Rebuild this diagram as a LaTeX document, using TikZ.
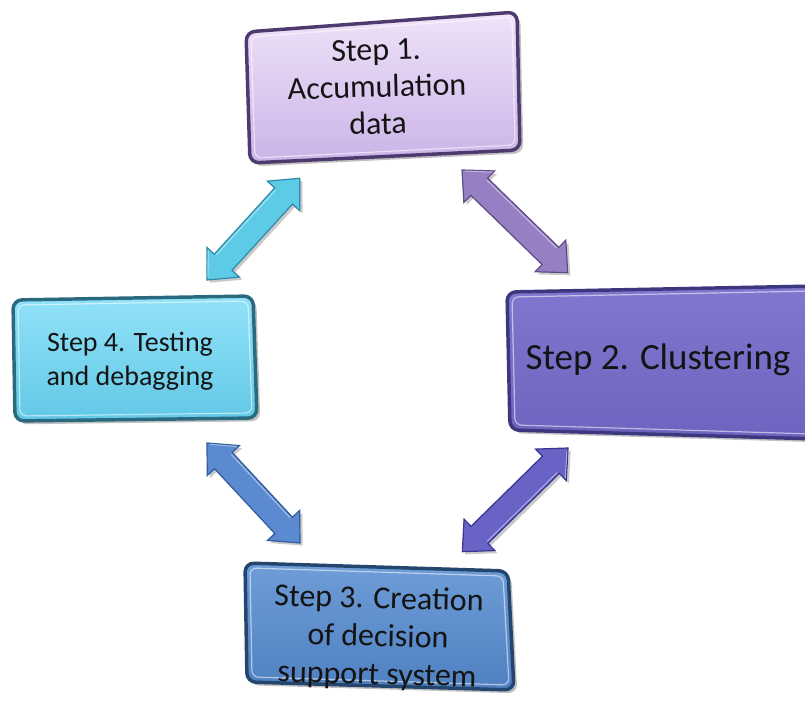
\documentclass[tikz,border=0pt]{standalone}
\usepackage{fontspec}
\setmainfont{Carlito}
\usetikzlibrary{calc,shadows}
\definecolor{bAtop}{HTML}{EFE3F8}\definecolor{bAbot}{HTML}{CBB3E8}\definecolor{bAline}{HTML}{4E3A6E}
\definecolor{bBtop}{HTML}{8078CF}\definecolor{bBbot}{HTML}{6C64BE}\definecolor{bBline}{HTML}{3D3780}
\definecolor{bCtop}{HTML}{6E9DD8}\definecolor{bCbot}{HTML}{4F80C0}\definecolor{bCline}{HTML}{24466E}
\definecolor{bDtop}{HTML}{92E2F8}\definecolor{bDbot}{HTML}{62C8E6}\definecolor{bDline}{HTML}{2A6A80}
\definecolor{arCyan}{HTML}{5ECBE6}\definecolor{arCyanL}{HTML}{2C8AA8}
\definecolor{arPur}{HTML}{977FC4}\definecolor{arPurL}{HTML}{5E4A88}
\definecolor{arBlue}{HTML}{5B8AD0}\definecolor{arBlueL}{HTML}{2F5C9A}
\definecolor{arInd}{HTML}{6A63C6}\definecolor{arIndL}{HTML}{3A3490}
\definecolor{txt}{HTML}{141414}
\tikzset{
  boxbase/.style={rounded corners=6.75pt, line width=2.6pt,
    drop shadow={shadow xshift=2.5pt, shadow yshift=-2.5pt, opacity=.4, fill=black!60}},
  innerline/.style={rounded corners=5pt, line width=0.9pt, white, opacity=.55},
  arrowbase/.style={line width=0.9pt, line join=miter,
    drop shadow={shadow xshift=2pt, shadow yshift=-2pt, opacity=.35, fill=black!60}},
  steptext/.style={text=txt, align=center, inner sep=0pt}
}
\newcommand\stepbox[5]{%
  \filldraw[boxbase,#1] (#2) -- (#3) -- (#4) -- (#5) -- cycle;
  \draw[innerline] ($(#2)+(5,-5)$) -- ($(#3)+(-5,-5)$) -- ($(#4)+(-5,5)$) -- ($(#5)+(5,5)$) -- cycle;}
\newcommand\blockarrow[3]{%
  \path let \p1=(#2), \p2=(#3) in \pgfextra{%
    \pgfmathsetmacro\tmpang{atan2(\y2-\y1,\x2-\x1)}%
    \pgfmathsetmacro\tmplen{veclen(\x2-\x1,\y2-\y1)/0.75}%
    \xdef\barang{\tmpang}\xdef\barlen{\tmplen}};
  \begin{scope}[shift={(#2)},rotate=\barang]
    \filldraw[arrowbase,#1] (0,0) -- (24,22) -- (24,12) -- ({\barlen-24},12) -- ({\barlen-24},22)
      -- (\barlen,0) -- ({\barlen-24},-22) -- ({\barlen-24},-12) -- (24,-12) -- (24,-22) -- cycle;
    \draw[white, opacity=.45, line width=0.8pt] (3,1.5) -- (23,19.5) (25,10) -- ({\barlen-25},10);
  \end{scope}}
\begin{document}
\begin{tikzpicture}[x=0.75pt,y=0.75pt]
\clip (0,0) rectangle (805,707);
\fill[white] (0,0) rectangle (805,707);
% boxes
\stepbox{top color=bAtop,bottom color=bAbot,draw=bAline}{246,675}{517,695}{520,557}{250,544}
\stepbox{top color=bBtop,bottom color=bBbot,draw=bBline}{507,415}{818,421}{818,268}{510,277}
\stepbox{top color=bCtop,bottom color=bCbot,draw=bCline}{245,144}{508,136}{514,17}{247,25}
\stepbox{top color=bDtop,bottom color=bDbot,draw=bDline}{13,407}{253,411}{257,289}{15,286}
% texts
\node[steptext, rotate=1.5, font=\fontsize{24}{27.75}\selectfont] (s1) at (377,620) {Step 1.\\Accumulation\\data};
\node[steptext, font=\fontsize{27.75}{30}\selectfont] (s2) at (658,347) {Step 2. Clustering};
\node[steptext, rotate=-1.5, font=\fontsize{24}{28.5}\selectfont] (s3) at (378,69) {Step 3. Creation\\of decision\\support system};
\node[steptext, font=\fontsize{21}{25.5}\selectfont] (s4) at (130,346) {Step 4. Testing\\and debagging};
% arrow end points
\coordinate (a41s) at (207,427); \coordinate (a41e) at (300,529);
\coordinate (a12s) at (462,537); \coordinate (a12e) at (568,434);
\coordinate (a43s) at (207,264); \coordinate (a43e) at (300,164);
\coordinate (a23s) at (568,259); \coordinate (a23e) at (462,155);
\blockarrow{fill=arCyan,draw=arCyanL}{a41s}{a41e}
\blockarrow{fill=arPur,draw=arPurL}{a12s}{a12e}
\blockarrow{fill=arBlue,draw=arBlueL}{a43s}{a43e}
\blockarrow{fill=arInd,draw=arIndL}{a23s}{a23e}
\end{tikzpicture}
\end{document}
